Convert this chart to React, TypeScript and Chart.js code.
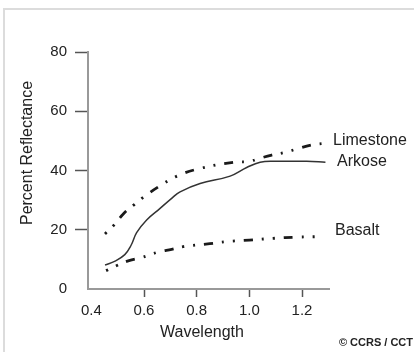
import React, { useEffect, useRef } from "react";
import { Chart, registerables } from "chart.js";

Chart.register(...registerables);

const limestoneX = [0.452, 0.484, 0.524, 0.563, 0.598, 0.655, 0.725, 0.813, 0.94, 1.0, 1.028, 1.085, 1.136, 1.174, 1.236, 1.285];
const limestoneY = [18.6, 21.4, 25.6, 28.5, 31.0, 34.5, 38.1, 40.7, 42.8, 43.0, 43.8, 45.2, 46.1, 47.1, 48.6, 49.2];

const arkoseX = [0.452, 0.49, 0.527, 0.55, 0.572, 0.61, 0.661, 0.705, 0.737, 0.813, 0.927, 0.99, 1.041, 1.1, 1.218, 1.289];
const arkoseY = [8.1, 9.4, 11.6, 14.6, 19.0, 23.3, 27.2, 30.6, 32.8, 35.6, 38.1, 41.0, 42.8, 43.1, 43.1, 42.8];

const basaltX = [0.456, 0.497, 0.537, 0.59, 0.655, 0.705, 0.749, 0.85, 0.914, 1.0, 1.09, 1.18, 1.28];
const basaltY = [6.2, 7.9, 9.4, 10.6, 12.5, 13.4, 14.3, 15.3, 16.0, 16.5, 17.1, 17.5, 17.7];

const seriesNames = ["Limestone", "Arkose", "Basalt"];
const labelValues = [50, 42.9, 19.7];
const xTicks = [0.4, 0.6, 0.8, 1.0, 1.2];
const yTicks = [0, 20, 40, 60, 80];

const xTitle = "Wavelength";
const yTitle = "Percent Reflectance";
const credit = "© CCRS / CCT";

const FONT = '"Liberation Sans", Arial, sans-serif';
const TEXT = "#222";

const toPoints = (xs: number[], ys: number[]) => xs.map((x, i) => ({ x, y: ys[i] }));

const annotations = {
  id: "annotations",
  afterDraw(chart: any) {
    const { ctx, chartArea, scales } = chart;
    ctx.save();
    ctx.fillStyle = TEXT;
    ctx.font = `16px ${FONT}`;
    ctx.textBaseline = "middle";
    ctx.textAlign = "left";
    const lx = [chartArea.right + 4, chartArea.right + 8, chartArea.right + 6];
    seriesNames.forEach((n, i) => {
      ctx.fillText(n, lx[i], scales.y.getPixelForValue(labelValues[i]));
    });
    ctx.textAlign = "center";
    ctx.fillText(xTitle, 202, 333);
    ctx.save();
    ctx.translate(28, 153);
    ctx.rotate(-Math.PI / 2);
    ctx.fillText(yTitle, 0, 0);
    ctx.restore();
    ctx.font = `bold 11px ${FONT}`;
    ctx.textAlign = "right";
    ctx.fillText(credit, 413, 343);
    ctx.restore();
  },
};

export default function App() {
  const ref = useRef<HTMLCanvasElement | null>(null);
  useEffect(() => {
    if (!ref.current) return;
    const dash = [2, 9, 2, 9, 9, 9];
    const chart = new Chart(ref.current, {
      type: "line",
      data: {
        datasets: [
          {
            label: seriesNames[0],
            data: toPoints(limestoneX, limestoneY),
            borderColor: "#1a1a1a",
            borderWidth: 2.8,
            borderDash: dash,
            pointRadius: 0,
            tension: 0.4,
          },
          {
            label: seriesNames[1],
            data: toPoints(arkoseX, arkoseY),
            borderColor: "#333",
            borderWidth: 1.5,
            pointRadius: 0,
            tension: 0.4,
          },
          {
            label: seriesNames[2],
            data: toPoints(basaltX, basaltY),
            borderColor: "#1a1a1a",
            borderWidth: 2.8,
            borderDash: dash,
            pointRadius: 0,
            tension: 0.4,
          },
        ],
      },
      options: {
        responsive: false,
        animation: false,
        layout: { padding: { left: 0, top: 52, right: 85, bottom: 0 } },
        plugins: { legend: { display: false }, tooltip: { enabled: false } },
        scales: {
          x: {
            type: "linear",
            min: 0.3873,
            max: 1.3025,
            afterBuildTicks: (s: any) => {
              s.ticks = xTicks.map((v) => ({ value: v }));
            },
            afterFit: (s: any) => {
              s.height = 63;
            },
            ticks: {
              color: TEXT,
              font: { family: FONT, size: 15 },
              padding: 5,
              maxRotation: 0,
              autoSkip: false,
              callback: (v: any) => Number(v).toFixed(1),
            },
            grid: {
              drawOnChartArea: false,
              drawTicks: true,
              tickLength: 8,
              tickWidth: 1.5,
              tickColor: (c: any) => (c.tick && c.tick.value === 0.4 ? "rgba(0,0,0,0)" : "#555"),
            },
            border: { display: true, color: "#999", width: 2 },
          },
          y: {
            type: "linear",
            min: 0,
            max: 80,
            afterBuildTicks: (s: any) => {
              s.ticks = yTicks.map((v) => ({ value: v }));
            },
            afterFit: (s: any) => {
              s.width = 88;
            },
            ticks: {
              color: TEXT,
              font: { family: FONT, size: 15 },
              padding: 8,
            },
            grid: {
              drawOnChartArea: false,
              drawTicks: true,
              tickLength: 13,
              tickWidth: 1.5,
              tickColor: (c: any) => (c.tick && c.tick.value === 0 ? "rgba(0,0,0,0)" : "#555"),
            },
            border: { display: true, color: "#999", width: 2 },
          },
        },
      },
      plugins: [annotations],
    } as any);
    return () => chart.destroy();
  }, []);

  return (
    <div style={{ position: "fixed", left: 0, top: 0, width: 414, height: 352, background: "#fff", overflow: "hidden" }}>
      <div
        style={{
          position: "absolute",
          left: 3,
          top: 8,
          width: 420,
          height: 360,
          borderTop: "2px solid #dcdcdc",
          borderLeft: "2px solid #dcdcdc",
        }}
      />
      <canvas ref={ref} width={414} height={352} style={{ position: "absolute", left: 0, top: 0, width: 414, height: 352 }} />
    </div>
  );
}
